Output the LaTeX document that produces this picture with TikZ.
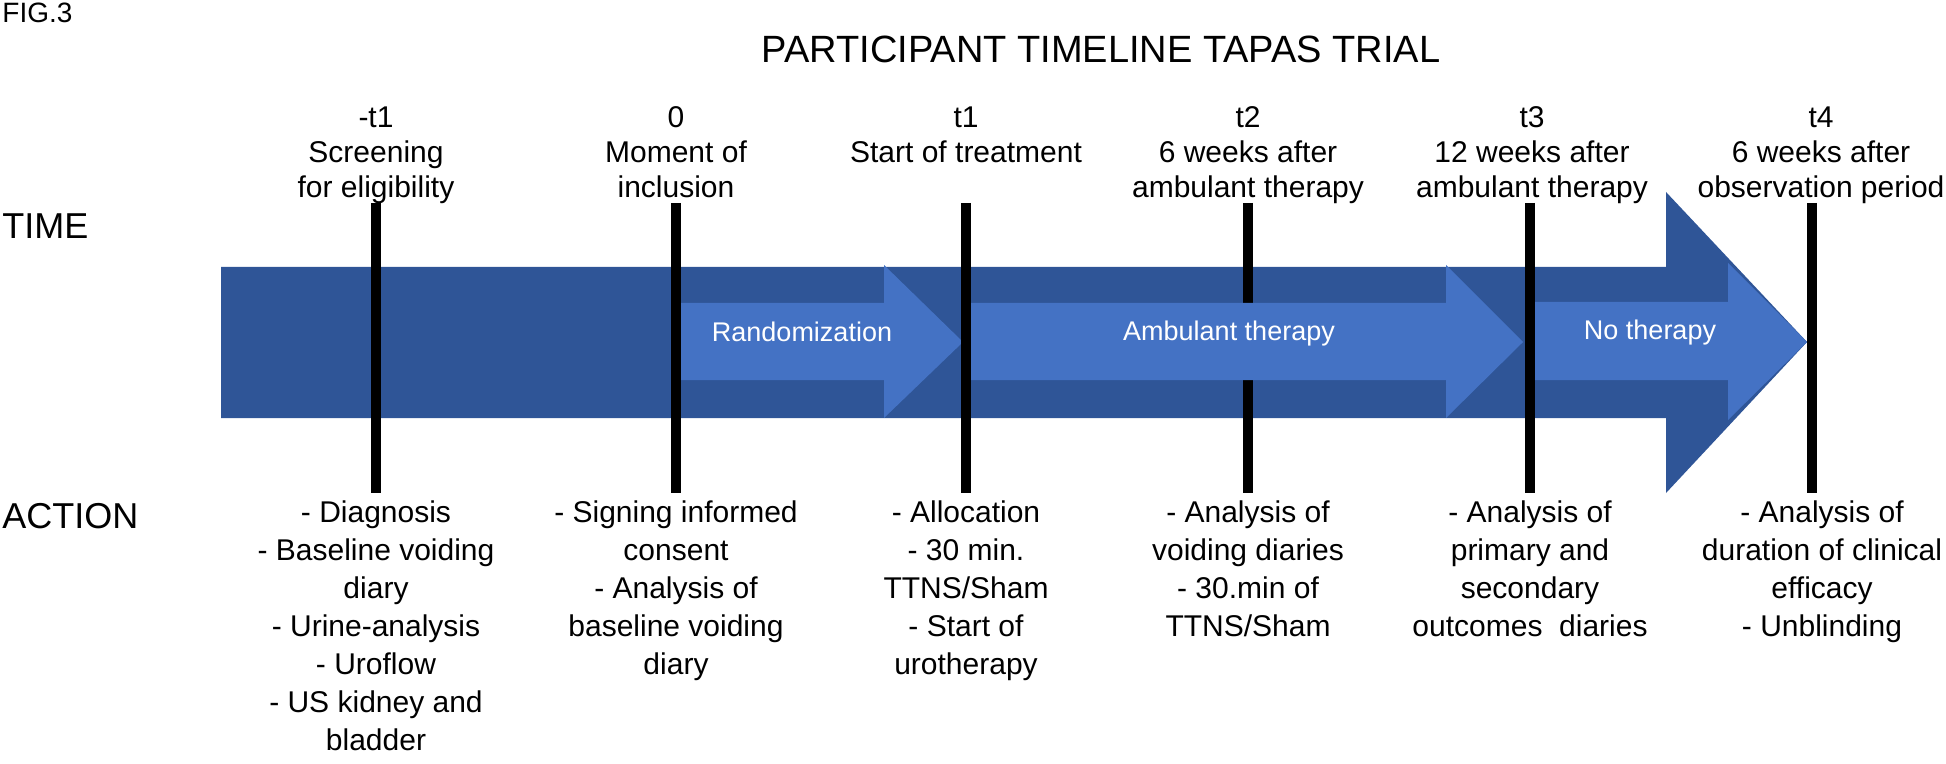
\documentclass[tikz,border=0pt]{standalone}
\usepackage{fontspec}
\setmainfont{Liberation Sans}
\definecolor{darkblue}{HTML}{2F5597}
\definecolor{lightblue}{HTML}{4472C4}
\begin{document}
\begin{tikzpicture}[x=0.5pt,y=-0.5pt,
  lbl/.style={font=\fontsize{15pt}{17.5pt}\selectfont, align=center, anchor=north, inner sep=0pt},
  act/.style={font=\fontsize{15pt}{19pt}\selectfont, align=center, anchor=north, inner sep=0pt},
  side/.style={font=\fontsize{18pt}{20pt}\selectfont, anchor=base west, inner sep=0pt},
  inlbl/.style={font=\fontsize{13.5pt}{16pt}\selectfont, text=white, anchor=base, inner sep=0pt},
  tline/.style={line width=5pt, black},
  bigarrow/.style={fill=darkblue},
  smallarrow/.style={fill=lightblue}]
\useasboundingbox (0,0) rectangle (1946,764);

% main arrow
\fill[bigarrow] (221,267) -- (1666,267) -- (1666,192) -- (1807,342) -- (1666,493) -- (1666,418) -- (221,418) -- cycle;

% coordinates of the time lines
\coordinate (atop) at (376,203);  \coordinate (abot) at (376,493);
\coordinate (btop) at (676,203);  \coordinate (bbot) at (676,493);
\coordinate (ctop) at (966,203);  \coordinate (cbot) at (966,493);
\coordinate (dtop) at (1248,203); \coordinate (dbot) at (1248,493);
\coordinate (etop) at (1530,203); \coordinate (ebot) at (1530,493);
\coordinate (ftop) at (1812,203); \coordinate (fbot) at (1812,493);

% t2 line lies under the ambulant therapy arrow
\draw[tline] (dtop) -- (dbot);

% inner arrows
\fill[smallarrow] (676,303) -- (884,303) -- (884,265) -- (963,342) -- (884,418) -- (884,380) -- (676,380) -- cycle;
\fill[smallarrow] (966,303) -- (1446,303) -- (1446,265) -- (1523,342) -- (1446,418) -- (1446,380) -- (966,380) -- cycle;
\fill[smallarrow] (1530,302) -- (1728,302) -- (1728,263) -- (1807,342) -- (1728,420) -- (1728,380) -- (1530,380) -- cycle;

\node[inlbl] (rand) at (802,342) {Randomization};
\node[inlbl] (amb) at (1229,341) {Ambulant therapy};
\node[inlbl] (noth) at (1650,340) {No therapy};

% other vertical time lines
\draw[tline] (atop) -- (abot);
\draw[tline] (btop) -- (bbot);
\draw[tline] (ctop) -- (cbot);
\draw[tline] (etop) -- (ebot);
\draw[tline] (ftop) -- (fbot);

% header texts
\node[font=\fontsize{14pt}{16pt}\selectfont, anchor=base west, inner sep=0pt] (fig) at (2,23) {FIG.3};
\node[font=\fontsize{19pt}{21pt}\selectfont, anchor=base, inner sep=0pt] (title) at (1101,63) {PARTICIPANT TIMELINE TAPAS TRIAL};
\node[side] (time) at (2,239) {TIME};
\node[side] (action) at (2,528) {ACTION};

% time point labels
\node[lbl] (la) at (376,103) {\rule{0pt}{12pt}-t1\\Screening\\for eligibility};
\node[lbl] (lb) at (676,103) {\rule{0pt}{12pt}0\\Moment of\\inclusion};
\node[lbl] (lc) at (966,103) {\rule{0pt}{12pt}t1\\Start of treatment};
\node[lbl] (ld) at (1248,103) {\rule{0pt}{12pt}t2\\6 weeks after\\ambulant therapy};
\node[lbl] (le) at (1532,103) {\rule{0pt}{12pt}t3\\12 weeks after\\ambulant therapy};
\node[lbl] (lf) at (1821,103) {\rule{0pt}{12pt}t4\\6 weeks after\\observation period};

% actions
\node[act] (aa) at (376,498) {\rule{0pt}{12pt}- Diagnosis\\- Baseline voiding\\diary\\- Urine-analysis\\- Uroflow\\- US kidney and\\bladder};
\node[act] (ab) at (676,498) {\rule{0pt}{12pt}- Signing informed\\consent\\- Analysis of\\baseline voiding\\diary};
\node[act] (ac) at (966,498) {\rule{0pt}{12pt}- Allocation\\- 30 min.\\TTNS/Sham\\- Start of\\urotherapy};
\node[act] (ad) at (1248,498) {\rule{0pt}{12pt}- Analysis of\\voiding diaries\\- 30.min of\\TTNS/Sham};
\node[act] (ae) at (1530,498) {\rule{0pt}{12pt}- Analysis of\\primary and\\secondary\\outcomes\ \ diaries};
\node[act] (af) at (1822,498) {\rule{0pt}{12pt}- Analysis of\\duration of clinical\\efficacy\\- Unblinding};
\end{tikzpicture}
\end{document}
